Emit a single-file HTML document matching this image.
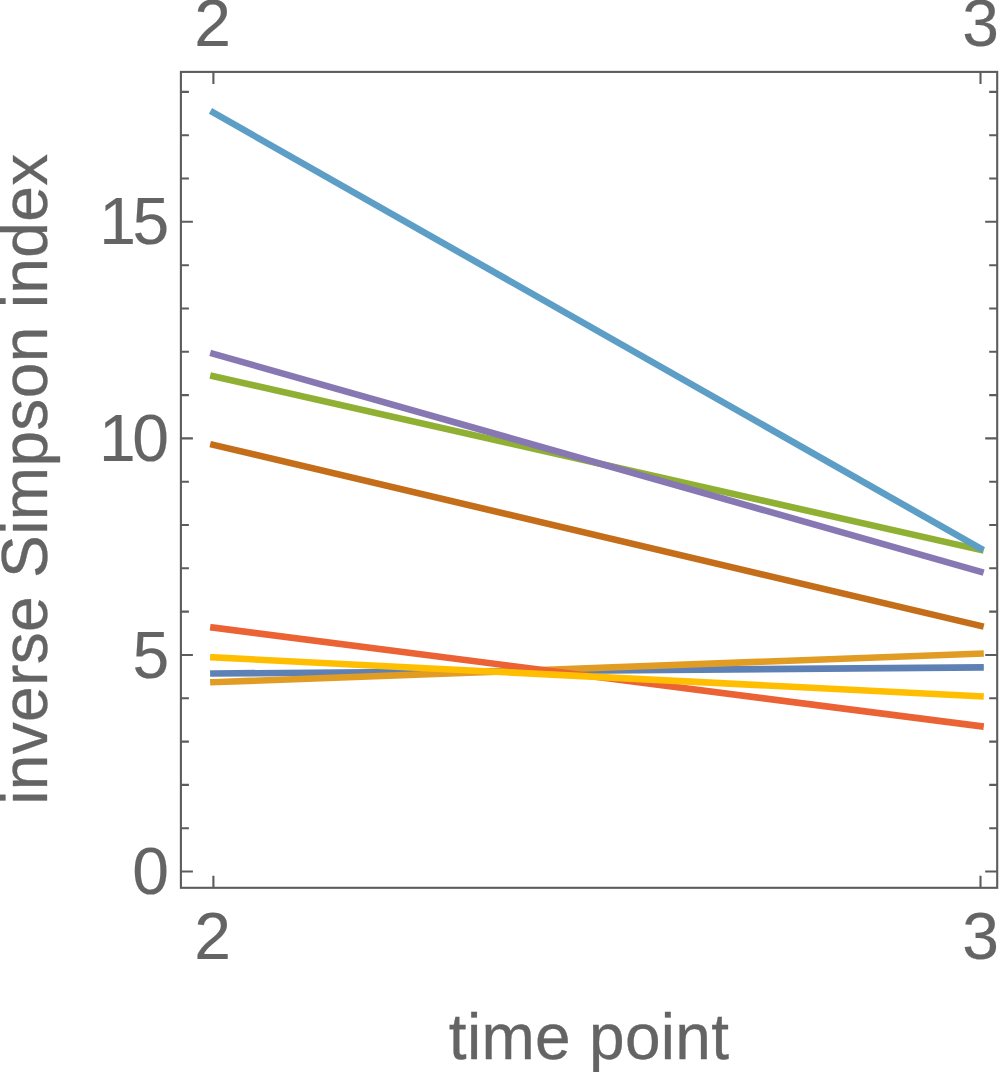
<!DOCTYPE html>
<html><head><meta charset="utf-8"><title>inverse Simpson index</title>
<style>
html,body{margin:0;padding:0;background:#fff;}
svg{display:block;}
text{font-family:"Liberation Sans",Arial,sans-serif;font-size:64px;fill:#646464;stroke:#646464;stroke-width:0.3px;}
.t{font-size:66px;stroke-width:0.15px;}
</style></head><body>
<svg width="1000" height="1072" viewBox="0 0 1000 1072">
<rect width="1000" height="1072" fill="#fff"/>

<g fill="none" stroke-width="6.6" stroke-linecap="square">
<line x1="213.4" y1="673.5" x2="980.5" y2="667.4" stroke="#5E81B5"/>
<line x1="213.4" y1="682.2" x2="980.5" y2="653.6" stroke="#E19C24"/>
<line x1="213.4" y1="376.2" x2="980.5" y2="549.9" stroke="#8FB032"/>
<line x1="213.4" y1="627.6" x2="980.5" y2="726.2" stroke="#EB6235"/>
<line x1="213.4" y1="353.8" x2="980.5" y2="571.7" stroke="#8778B3"/>
<line x1="213.4" y1="444.9" x2="980.5" y2="625.9" stroke="#C56E1A"/>
<line x1="213.4" y1="112.6" x2="980.5" y2="548.5" stroke="#5D9EC7"/>
<line x1="213.4" y1="657.4" x2="980.5" y2="696.3" stroke="#FFBF00"/>
</g>
<g fill="none" stroke="#5c5c5c" stroke-width="2.1">
<rect x="180.9" y="71.9" width="816.3" height="815.9"/>
<path d="M180.9 871.5h12M997.2 871.5h-12M180.9 828.2h8M997.2 828.2h-8M180.9 784.9h8M997.2 784.9h-8M180.9 741.6h8M997.2 741.6h-8M180.9 698.3h8M997.2 698.3h-8M180.9 655.0h12M997.2 655.0h-12M180.9 611.6h8M997.2 611.6h-8M180.9 568.3h8M997.2 568.3h-8M180.9 525.0h8M997.2 525.0h-8M180.9 481.7h8M997.2 481.7h-8M180.9 438.4h12M997.2 438.4h-12M180.9 395.1h8M997.2 395.1h-8M180.9 351.8h8M997.2 351.8h-8M180.9 308.5h8M997.2 308.5h-8M180.9 265.2h8M997.2 265.2h-8M180.9 221.8h12M997.2 221.8h-12M180.9 178.5h8M997.2 178.5h-8M180.9 135.2h8M997.2 135.2h-8M180.9 91.9h8M997.2 91.9h-8M213.4 71.9v12.1M213.4 887.8v-12.1M980.5 71.9v12.1M980.5 887.8v-12.1"/>
</g>
<text class="t" x="132.27" y="894.1">0</text>
<text class="t" x="132.47" y="677.6">5</text>
<text class="t" x="98.97 132.27" y="461.0">10</text>
<text class="t" x="99.17 132.47" y="244.4">15</text>
<text class="t" x="194.25" y="46.0">2</text>
<text class="t" x="194.25" y="958.8">2</text>
<text class="t" x="962.34" y="46.0">3</text>
<text class="t" x="962.34" y="958.8">3</text>
<text x="589.1" y="1059.1" text-anchor="middle" style="letter-spacing:0.3px">time point</text>
<text transform="translate(46.8 479.15) rotate(-90)" text-anchor="middle" style="letter-spacing:0.36px">inverse Simpson index</text>
</svg></body></html>
